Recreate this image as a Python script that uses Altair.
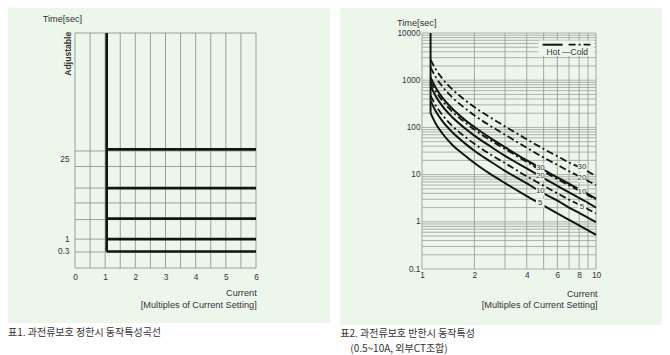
import altair as alt
import pandas as pd

BG = "#edf6eb"
GRID = "#9aa097"
INK = "#333333"
LINE = "#141414"
FONT = "Liberation Sans"
KFONT = "Noto Sans CJK KR"

# ---------------- Panel 1: definite-time characteristic (schematic axis) ----------------
left_x_ticks = [0, 1, 2, 3, 4, 5, 6]
left_x_grid = [0, 0.5, 1, 1.5, 2, 2.5, 3, 3.5, 4, 4.5, 5, 5.5, 6]
left_y_grid = [0, 6.8, 12.3, 20.6, 27.7, 34.0, 43.2, 49.8, 100]
left_levels = [7.0, 12.3, 21.0, 34.0, 50.5]          # adjustable time settings (schematic)
left_y_label_pos = [46.0, 12.3, 7.0]
left_y_label_text = ["25", "1", "0.3"]
pickup = 1.05
left_top = 100

# ---------------- Panel 2: inverse-time characteristic ----------------
currents = [1.12, 1.2, 1.3, 1.5, 1.75, 2, 2.5, 3, 4, 5, 6, 7, 8, 10]
hot30 = [1150, 695, 443, 245, 148, 102, 58, 38, 20, 12.7, 8.7, 6.4, 4.9, 3.1]
hot20 = [760, 459, 293, 162, 98, 67, 38.5, 25, 13.5, 8.4, 5.8, 4.2, 3.2, 2.0]
hot10 = [365, 220, 141, 78, 47, 32, 18.5, 12, 6.5, 4.0, 2.8, 2.0, 1.55, 0.98]
hot5 = [200, 120, 77, 42, 26, 17.6, 10, 6.6, 3.5, 2.2, 1.5, 1.1, 0.84, 0.53]
cold30 = [2720, 1700, 1120, 630, 390, 270, 158, 105, 56, 35, 24.5, 18, 14.5, 9.3]
cold20 = [1870, 1160, 760, 425, 262, 180, 105, 70, 37, 23, 16, 11.8, 9.2, 6.0]
cold10 = [935, 580, 380, 212, 131, 90, 52, 35, 18.5, 11.5, 8, 5.9, 4.6, 3.0]
cold5 = [470, 290, 190, 106, 65, 45, 26, 17.5, 9.2, 5.8, 4.0, 2.95, 2.3, 1.5]
pickup_current = 1.12
vertical_top = 10000
hot_label_I = 4.78
hot_label_t = [13.9, 9.2, 4.4, 2.5]
cold_label_I = 8.3
cold_label_t = [14.2, 8.5, 4.3, 2.1]
curve_label_text = ["30", "20", "10", "5"]
right_x_ticks = [1, 2, 4, 6, 8, 10]
right_y_ticks = [0.1, 1, 10, 100, 1000, 10000]
right_x_grid = [1, 2, 3, 4, 5, 6, 7, 8, 9, 10]
right_y_grid = [m * 10 ** k for k in range(-1, 4) for m in range(1, 10)] + [10000]


def one():
    return pd.DataFrame({"k": [0]})


def box(x1, x2, y1, y2, color=BG):
    return alt.Chart(one()).mark_rect(color=color).encode(
        x=alt.value(x1), x2=alt.value(x2), y=alt.value(y1), y2=alt.value(y2))


def txt(text, x, y, size, align="left", angle=0, weight="normal", font=FONT, color=INK):
    return alt.Chart(one()).mark_text(
        text=text, align=align, baseline="middle", fontSize=size, font=font,
        fontWeight=weight, angle=angle, color=color).encode(x=alt.value(x), y=alt.value(y))


# ---------- left chart ----------
LW, LH = 181, 235
lx = alt.Scale(domain=[0, 6], nice=False, zero=False)
ly = alt.Scale(domain=[0, 100], nice=False, zero=False)
lax = alt.Axis(values=left_x_ticks, format="d", labelPadding=4, title="", zindex=1, labelFlush=False)
lay = alt.Axis(values=left_y_label_pos, labelPadding=6, title="", zindex=1, labelFlush=False,
               labelExpr="datum.value > 40 ? '25' : datum.value > 10 ? '1' : '0.3'")


def LX(f):
    return alt.X(f, scale=lx, axis=lax)


def LY(f):
    return alt.Y(f, scale=ly, axis=lay)


lgx = alt.Chart(pd.DataFrame({"x": left_x_grid})).mark_rule(color=GRID, strokeWidth=1).encode(x=LX("x:Q"))
lgy = alt.Chart(pd.DataFrame({"y": left_y_grid})).mark_rule(color=GRID, strokeWidth=1).encode(y=LY("y:Q"))
lvert = alt.Chart(pd.DataFrame({"x": [pickup], "y": [min(left_levels)], "y2": [left_top]})).mark_rule(
    color=LINE, strokeWidth=2.6).encode(x=LX("x:Q"), y=LY("y:Q"), y2="y2:Q")
lhor = alt.Chart(pd.DataFrame({"y": left_levels, "x": [pickup] * 5, "x2": [6] * 5})).mark_rule(
    color=LINE, strokeWidth=2.6).encode(x=LX("x:Q"), x2="x2:Q", y=LY("y:Q"))

left = alt.layer(
    box(-67, 255, -25, 290),
    lgx, lgy, lvert, lhor,
    txt("Time[sec]", -32.3, -14.3, 9.2),
    txt("Adjustable", -7.5, 20.7, 8.6, align="center", angle=270, weight="bold"),
    txt("Current", 181.7, 260, 9.2, align="right"),
    txt("[Multiples of Current Setting]", 181.7, 271.7, 9.2, align="right"),
    txt("표1. 과전류보호 정한시 동작특성곡선", -67, 299.7, 10, font=KFONT),
).properties(width=LW, height=LH)

# ---------- right chart ----------
RW, RH = 174, 236
rx = alt.Scale(type="log", domain=[1, 10], nice=False)
ry = alt.Scale(type="log", domain=[0.1, 10000], nice=False)
rax = alt.Axis(values=right_x_ticks, format="~g", labelPadding=1, title="", zindex=1, labelFlush=False)
ray = alt.Axis(values=right_y_ticks, format="~g", labelPadding=2, title="", zindex=1, labelFlush=False)


def RX(f):
    return alt.X(f, scale=rx, axis=rax)


def RY(f):
    return alt.Y(f, scale=ry, axis=ray)


rows = []
for name, kind, vals in [("h30", "Hot", hot30), ("h20", "Hot", hot20), ("h10", "Hot", hot10), ("h5", "Hot", hot5),
                         ("c30", "Cold", cold30), ("c20", "Cold", cold20), ("c10", "Cold", cold10), ("c5", "Cold", cold5)]:
    for i, t in zip(currents, vals):
        rows.append({"curve": name, "kind": kind, "I": i, "t": t})
curves = pd.DataFrame(rows)
hot_df = curves[curves.kind == "Hot"].reset_index(drop=True)
cold_df = curves[curves.kind == "Cold"].reset_index(drop=True)

rgx = alt.Chart(pd.DataFrame({"x": right_x_grid})).mark_rule(color=GRID, strokeWidth=0.9).encode(x=RX("x:Q"))
rgy = alt.Chart(pd.DataFrame({"y": right_y_grid})).mark_rule(color=GRID, strokeWidth=0.8).encode(y=RY("y:Q"))
legbg = box(116.5, 172, 7.5, 23)
rvert = alt.Chart(pd.DataFrame({"x": [pickup_current], "y": [hot5[0]], "y2": [vertical_top]})).mark_rule(
    color=LINE, strokeWidth=2).encode(x=RX("x:Q"), y=RY("y:Q"), y2="y2:Q")
hot = alt.Chart(hot_df).mark_line(color=LINE, strokeWidth=2, interpolate="monotone").encode(
    x=RX("I:Q"), y=RY("t:Q"), detail="curve:N")
cold = alt.Chart(cold_df).mark_line(color=LINE, strokeWidth=1.8, strokeDash=[7, 3, 2, 3],
                                    interpolate="monotone").encode(
    x=RX("I:Q"), y=RY("t:Q"), detail="curve:N")

labels = pd.DataFrame({
    "I": [hot_label_I] * 4 + [cold_label_I] * 4,
    "t": hot_label_t + cold_label_t,
    "text": curve_label_text * 2,
})
lab_bg = alt.Chart(labels).mark_point(shape="square", filled=True, size=75, color=BG, opacity=1).encode(
    x=RX("I:Q"), y=RY("t:Q"))
lab_tx = alt.Chart(labels).mark_text(fontSize=7.8, font=FONT, color=INK).encode(
    x=RX("I:Q"), y=RY("t:Q"), text="text:N")

leg_hot = alt.Chart(one()).mark_rule(color=LINE, strokeWidth=2).encode(
    x=alt.value(120.6), x2=alt.value(140.6), y=alt.value(11.7))
leg_cold = alt.Chart(one()).mark_rule(color=LINE, strokeWidth=1.8, strokeDash=[7, 3, 2, 3]).encode(
    x=alt.value(146.6), x2=alt.value(168.3), y=alt.value(11.7))

right = alt.layer(
    box(-82, 240, -25, 292),
    rgx, rgy, legbg, rvert, hot, cold, lab_bg, lab_tx, leg_hot, leg_cold,
    txt("Hot —Cold", 145.3, 19.4, 8.5, align="center"),
    txt("Time[sec]", -25, -10, 9.2),
    txt("Current", 175.6, 261, 9.2, align="right"),
    txt("[Multiples of Current Setting]", 175.6, 271.7, 9.2, align="right"),
    txt("표2. 과전류보호 반한시 동작특성", -81.7, 301, 10, font=KFONT),
    txt("(0.5~10A, 외부CT조합)", -71.7, 315.5, 10, font=KFONT),
).properties(width=RW, height=RH)

chart = alt.hconcat(left, right, spacing=10).properties(
    padding=0, background="white"
).configure_view(strokeWidth=0).configure_axis(
    labelFont=FONT, labelColor=INK, labelFontSize=8.3, tickSize=0, domain=False, grid=False
)

chart.save("out.html", embed_options={"renderer": "svg", "actions": False})
